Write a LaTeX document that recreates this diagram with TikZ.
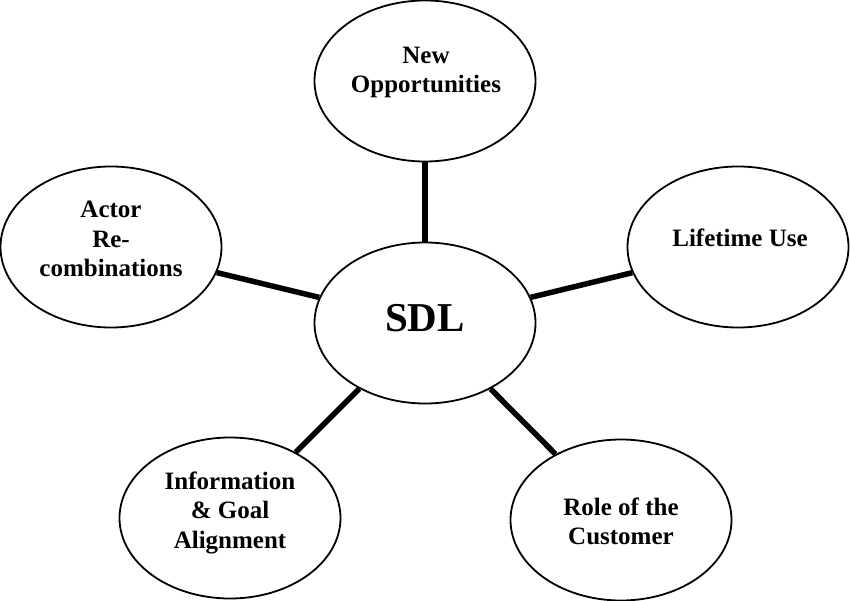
\documentclass[tikz,border=0pt]{standalone}
\usepackage{fontspec}
\setmainfont{Liberation Serif}
\usetikzlibrary{shapes.geometric}
\tikzset{
  every picture/.style={line join=round},
  % Ellipsen
  blob/.style={ellipse, draw, line width=1.8pt, minimum width=221pt,
    minimum height=161pt, inner sep=0pt},
  % Beschriftung
  lbl/.style={align=center, inner sep=0pt, font=\bfseries\fontsize{25}{29.5}\selectfont},
  core/.style={inner sep=0pt, font=\bfseries\fontsize{41}{48}\selectfont},
  % Verbindungen
  link/.style={line width=5.5pt},
}
\begin{document}
\begin{tikzpicture}[x=1pt, y=-1pt]
  \useasboundingbox (0,0) rectangle (850,601);
  % Zentrum und Aeste
  \node[blob] (sdl) at (425,323) {};
  \node[blob] (opp) at (425,81) {};
  \node[blob] (actor) at (111,247) {};
  \node[blob] (life) at (738,247) {};
  \node[blob] (info) at (230,518) {};
  \node[blob] (role) at (621,520) {};
  % Texte
  \node[core] (sdl-t) at (425,318.5) {SDL};
  \node[lbl] (opp-t) at (426,72.5) {New\\Opportunities};
  \node[lbl] (actor-t) at (111,239) {Actor\\Re-\\combinations};
  \node[lbl] (life-t) at (740,237.5) {Lifetime Use};
  \node[lbl] (info-t) at (230,512.5) {Information\\\& Goal\\Alignment};
  \node[lbl] (role-t) at (621,521.5) {Role of the\\Customer};
  % Verbindungen
  \foreach \n in {opp,actor,life,info,role}
    \draw[link] (\n) -- (sdl);
\end{tikzpicture}
\end{document}
